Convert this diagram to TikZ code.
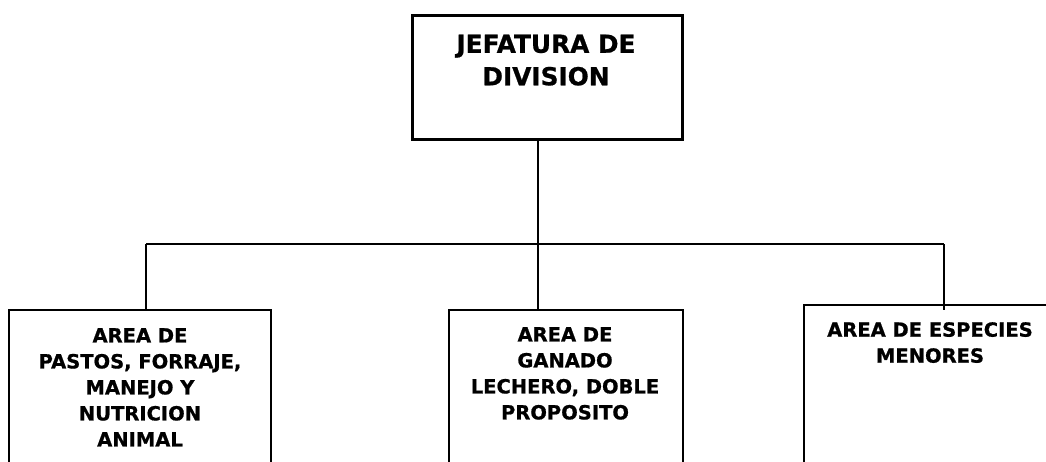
\documentclass[tikz,border=0pt]{standalone}
\usepackage{fontspec}
\setmainfont[BoldFeatures={FakeBold=0.8}]{DejaVu Sans}
\begin{document}
\begin{tikzpicture}[x=1pt,y=1pt,
  topbox/.style={draw=black, line width=3.3pt, minimum width=270pt, minimum height=124pt, inner sep=0pt, anchor=north west},
  areabox/.style={draw=black, line width=2pt, inner sep=0pt, anchor=north west},
  toptext/.style={align=center, inner sep=0pt, anchor=north, font=\bfseries\fontsize{24.8}{32.5}\selectfont},
  areatext/.style={align=center, inner sep=0pt, anchor=north, font=\bfseries\fontsize{19.5}{26}\selectfont},
  link/.style={draw=black, line width=1.4pt}]
\useasboundingbox[fill=white] (0,0) rectangle (1046,-461);
% boxes
\node[topbox] (jef) at (411,-14) {};
\node[areabox, minimum width=262pt, minimum height=200pt] (a1) at (8,-309) {};
\node[areabox, minimum width=234pt, minimum height=200pt] (a2) at (448,-309) {};
\node[areabox, minimum width=254pt, minimum height=200pt] (a3) at (803,-304) {};
% texts
\node[toptext] (tj) at (546,-34.5) {JEFATURA DE\\DIVISION};
\node[areatext] (t1) at (140,-328) {AREA DE\\PASTOS, FORRAJE,\\MANEJO Y\\NUTRICION\\ANIMAL};
\node[areatext] (t2) at (565,-327) {AREA DE\\GANADO\\LECHERO, DOBLE\\PROPOSITO};
\node[areatext] (t3) at (930,-322) {AREA DE ESPECIES\\MENORES};
% connector points
\coordinate (hub) at (538,-244);
\coordinate (hl) at (146,-244);
\coordinate (hr) at (944,-244);
\coordinate (r3) at (944,-310);
% connectors
\draw[link] (jef.south -| hub) -- (hub);
\draw[link] (hl) -- (hr);
\draw[link] (hub) -- (a2.north -| hub);
\draw[link] (hl) -- (a1.north -| hl);
\draw[link] (hr) -- (r3);
\end{tikzpicture}
\end{document}
